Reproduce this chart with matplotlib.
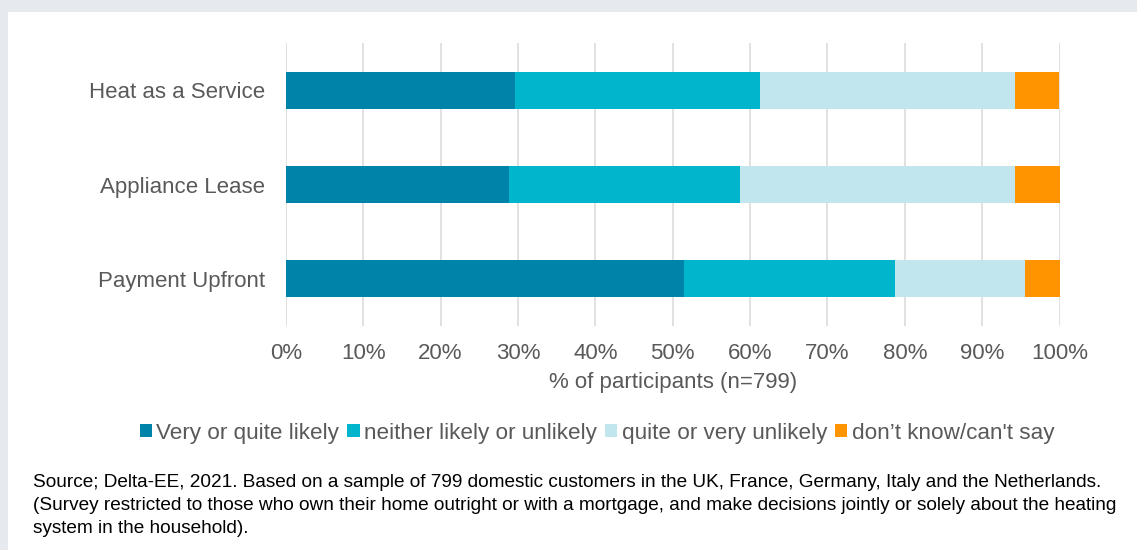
import matplotlib.pyplot as plt
import numpy as np
from matplotlib.patches import Patch, Rectangle

plt.rcParams['font.family'] = ['Liberation Sans', 'DejaVu Sans']

# survey categories (bottom to top as drawn)
options = ['Payment Upfront', 'Appliance Lease', 'Heat as a Service']
responses = ['Very or quite likely', 'neither likely or unlikely',
             'quite or very unlikely', "don\u2019t know/can't say"]

# % of participants per response, same order as options
very_quite_likely = [51.5, 28.8, 29.6]
neither = [27.3, 29.9, 31.7]
quite_very_unlikely = [16.7, 35.5, 32.9]
dont_know = [4.5, 5.8, 5.8]

colors = ['#0083A9', '#00B5CC', '#C2E6EE', '#FF9400']
text_grey = '#595959'

fig = plt.figure(figsize=(11.37, 5.5), dpi=100)
fig.patch.set_facecolor('white')

# light grey frame along the top and left edges
fig.add_artist(Rectangle((0, 1 - 12 / 550), 1, 12 / 550, transform=fig.transFigure,
                         facecolor='#E6EAEE', edgecolor='none'))
fig.add_artist(Rectangle((0, 0), 8 / 1137, 1, transform=fig.transFigure,
                         facecolor='#E6EAEE', edgecolor='none'))

ax = fig.add_axes([285.8 / 1137, 1 - 326 / 550, (1059.5 - 285.8) / 1137, (326 - 43) / 550])

y = np.arange(len(options))
left = np.zeros(len(options))
for vals, col, name in zip([very_quite_likely, neither, quite_very_unlikely, dont_know],
                           colors, responses):
    ax.barh(y, vals, left=left, height=0.39, color=col, label=name, zorder=3)
    left += np.array(vals)

ax.set_xlim(0, 100)
ax.set_ylim(-0.5, len(options) - 0.5)
ax.set_xticks(np.arange(0, 101, 10))
ax.set_xticklabels([f'{t}%' for t in range(0, 101, 10)])
ax.set_yticks(y)
ax.set_yticklabels(options)
ax.tick_params(axis='both', length=0, labelsize=16, colors=text_grey)
ax.tick_params(axis='x', pad=12)
ax.tick_params(axis='y', pad=15)
ax.grid(axis='x', color='#D9D9D9', linewidth=1.1, zorder=0)
for s in ax.spines.values():
    s.set_visible(False)

ax.set_xlabel('% of participants (n=799)', fontsize=16, color=text_grey, labelpad=6)

handles = [Patch(facecolor=c, edgecolor='none') for c in colors]
fig.legend(handles, responses, loc='center', bbox_to_anchor=(597 / 1137, 1 - 433 / 550),
           ncol=4, frameon=False, fontsize=16.2, labelcolor=text_grey,
           handlelength=0.55, handleheight=0.55, handletextpad=0.2, columnspacing=0.35)

source = ('Source; Delta-EE, 2021. Based on a sample of 799 domestic customers in the UK, France, '
          'Germany, Italy and the Netherlands.\n'
          '(Survey restricted to those who own their home outright or with a mortgage, and make '
          'decisions jointly or solely about the heating\n'
          'system in the household).')
fig.text(33 / 1137, 1 - 474 / 550, source, ha='left', va='top', fontsize=13.72,
         color='black', linespacing=1.45)

fig.savefig('out.png', dpi=100)
